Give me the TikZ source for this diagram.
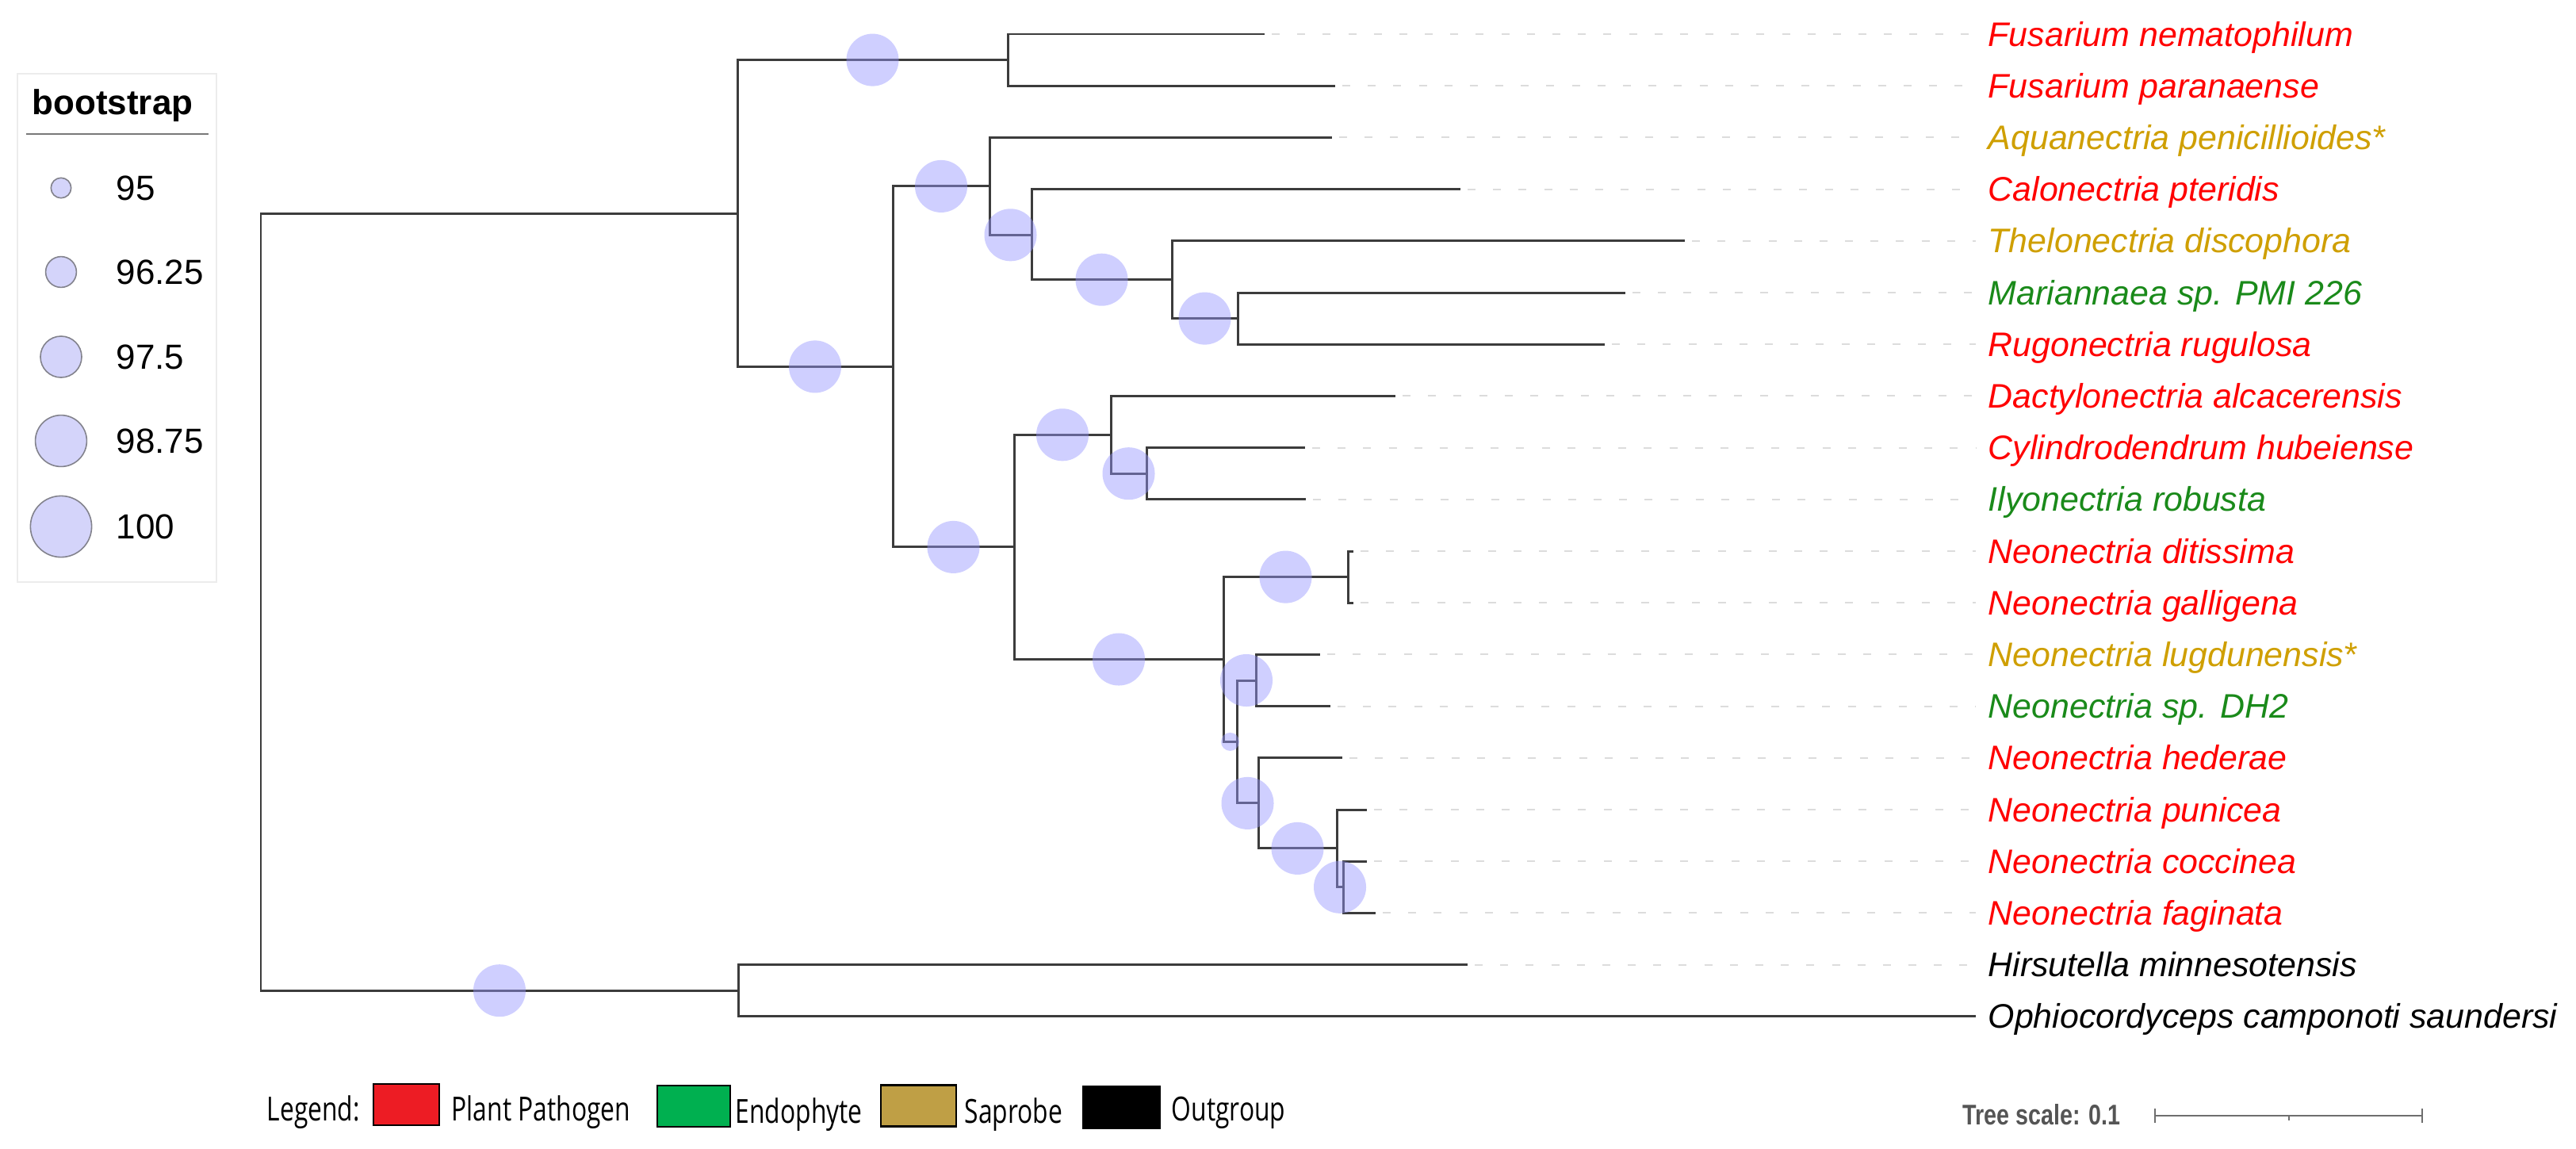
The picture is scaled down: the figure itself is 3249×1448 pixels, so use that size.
\documentclass[tikz,border=0pt]{standalone}
\usepackage{fontspec}
\setmainfont{Liberation Sans}
\newfontfamily\legfont[FakeStretch=0.76]{Open Sans}
\newfontfamily\scalefnt[FakeStretch=0.8]{Liberation Sans}
\usetikzlibrary{calc}
\definecolor{ppred}{HTML}{FF0000}
\definecolor{ppgold}{HTML}{CF9F00}
\definecolor{ppgreen}{HTML}{1A8A1A}
\definecolor{ppblack}{HTML}{000000}
\definecolor{branchcol}{HTML}{3C3C3C}
\definecolor{bootfill}{HTML}{9696FF}
\definecolor{legcfill}{HTML}{D4D4FA}
\definecolor{kred}{HTML}{ED1C24}
\definecolor{kgreen}{HTML}{00B050}
\definecolor{kgold}{HTML}{BF9F45}
\begin{document}
\begin{tikzpicture}[x=0.01cm,y=-0.01cm,
  branch/.style={draw=branchcol,line width=0.85pt,line join=miter},
  guide/.style={draw={rgb,255:red,220;green,220;blue,220},line width=0.55pt,dash pattern=on 2.85pt off 6.3pt},
  boot/.style={circle,inner sep=0pt,minimum size=0.66cm,fill=bootfill,fill opacity=0.45,draw=none},
  legcirc/.style={circle,inner sep=0pt,fill=legcfill,draw={rgb,255:red,130;green,130;blue,140},line width=0.45pt},
  leaflab/.style={anchor=base west,inner sep=0pt,font=\fontsize{12.2}{14}\selectfont\itshape},
  legnum/.style={anchor=base west,inner sep=0pt,font=\fontsize{12.5}{15}\selectfont},
  legtxt/.style={anchor=base west,inner sep=0pt,font=\legfont\fontsize{11.9}{14}\selectfont},
  keybox/.style={draw=black,line width=0.8pt,inner sep=0pt,minimum width=0.86cm,minimum height=0.52cm},
  scalecol/.style={draw={rgb,255:red,110;green,110;blue,110},line width=0.8pt}
]
\useasboundingbox (0,0) rectangle (3249,1448);
\fill[white] (0,0) rectangle (3249,1448);

% internal nodes
\coordinate (root) at (329,759.1);
\coordinate (nA) at (930,269);
\coordinate (nF) at (1271,75.6);
\coordinate (nL) at (1126,462.4);
\coordinate (nB) at (1248,234.9);
\coordinate (nB2) at (1301,296.3);
\coordinate (nB3) at (1478,352.7);
\coordinate (nB4) at (1561,401.6);
\coordinate (nCD) at (1279,689.9);
\coordinate (nC) at (1401,548.3);
\coordinate (nC2) at (1446,597.2);
\coordinate (nD) at (1543,831.5);
\coordinate (nD1) at (1700,727.6);
\coordinate (nD2) at (1560,935.4);
\coordinate (nD3) at (1584,858);
\coordinate (nD4) at (1587,1012.9);
\coordinate (nD5) at (1686,1069.9);
\coordinate (nD6) at (1694,1118.8);
\coordinate (nO) at (931,1249.2);

% leaves
\foreach \i/\x in {0/1595,1/1684,2/1680,3/1842,4/2125,5/2050,6/2024,7/1760,8/1646,9/1647,
  10/1707,11/1707,12/1665,13/1678,14/1693,15/1724,16/1724,17/1735,18/1851,19/2492}
  \coordinate (l\i) at (\x,43+65.2*\i);

% branches
\foreach \p/\c in {root/nA,root/nO,nA/nF,nA/nL,nF/l0,nF/l1,nL/nB,nL/nCD,nB/l2,nB/nB2,
  nB2/l3,nB2/nB3,nB3/l4,nB3/nB4,nB4/l5,nB4/l6,nCD/nC,nCD/nD,nC/l7,nC/nC2,nC2/l8,nC2/l9,
  nD/nD1,nD/nD2,nD1/l10,nD1/l11,nD2/nD3,nD2/nD4,nD3/l12,nD3/l13,nD4/l14,nD4/nD5,
  nD5/l15,nD5/nD6,nD6/l16,nD6/l17,nO/l18,nO/l19}
  \draw[branch] (\p) |- (\c);

% bootstrap circles
\foreach \p/\c in {nA/nF,nA/nL,nL/nB,nB/nB2,nB2/nB3,nB3/nB4,nCD/nC,nC/nC2,nL/nCD,
  nCD/nD,nD/nD1,nD2/nD3,nD2/nD4,nD4/nD5,nD5/nD6,root/nO}
  \node[boot] (b\c) at ($(\p|-\c)!0.5!(\c)$) {};
\node[boot,minimum size=0.23cm] (bnD2) at ($(nD|-nD2)!0.5!(nD2)$) {};

% leaf labels
\foreach \i/\col/\txt in {0/ppred/Fusarium nematophilum,1/ppred/Fusarium paranaense,
  2/ppgold/Aquanectria penicillioides*,3/ppred/Calonectria pteridis,
  4/ppgold/Thelonectria discophora,5/ppgreen/Mariannaea sp. PMI 226,
  6/ppred/Rugonectria rugulosa,7/ppred/Dactylonectria alcacerensis,
  8/ppred/Cylindrodendrum hubeiense,9/ppgreen/Ilyonectria robusta,
  10/ppred/Neonectria ditissima,11/ppred/Neonectria galligena,
  12/ppgold/Neonectria lugdunensis*,13/ppgreen/Neonectria sp. DH2,
  14/ppred/Neonectria hederae,15/ppred/Neonectria punicea,
  16/ppred/Neonectria coccinea,17/ppred/Neonectria faginata,
  18/ppblack/Hirsutella minnesotensis,19/ppblack/Ophiocordyceps camponoti saundersi}
  \node[leaflab,text=\col] (t\i) at (2507,43+65.2*\i+15) {\txt};

\foreach \i in {0,...,18}
  \draw[guide,shorten <=0.09cm,shorten >=0.15cm] (l\i) -- (l\i -| t\i.west);

% bootstrap legend
\draw[draw={rgb,255:red,236;green,236;blue,236},line width=0.4pt,fill=white] (22,93) rectangle (273,734);
\node[anchor=base west,inner sep=0pt,font=\bfseries\fontsize{12.5}{15}\selectfont] (bt) at (40,144) {bootstrap};
\draw[draw={rgb,255:red,120;green,120;blue,120},line width=0.6pt] (33,169) -- (263,169);
\foreach \k/\y/\d/\v in {1/237/0.254/95,2/343/0.388/96.25,3/450/0.52/97.5,4/556/0.648/98.75,5/664/0.772/100}{
  \node[legcirc,minimum size=\d cm] (lc\k) at (77,\y) {};
  \node[legnum] (lv\k) at (146,\y+15.5) {\v};
}

% category legend
\node[legtxt] (lgL) at (336,1413) {Legend:};
\node[keybox,fill=kred,minimum width=0.83cm] (kR) at (512.5,1393) {};
\node[legtxt] (lgR) at (569,1413) {Plant Pathogen};
\node[keybox,fill=kgreen,minimum width=0.92cm] (kG) at (875,1395) {};
\node[legtxt] (lgG) at (927,1416) {Endophyte};
\node[keybox,fill=kgold,minimum width=0.95cm] (kS) at (1158.5,1394.5) {};
\node[legtxt] (lgS) at (1216,1416) {Saprobe};
\node[keybox,fill=black,minimum width=0.97cm] (kK) at (1414.5,1396.5) {};
\node[legtxt] (lgK) at (1477,1413) {Outgroup};

% tree scale
\node[anchor=base west,inner sep=0pt,text={rgb,255:red,85;green,85;blue,85},
  font=\scalefnt\bfseries\fontsize{10.2}{12}\selectfont] (ts) at (2475,1418) {Tree scale: 0.1};
\coordinate (s0) at (2718,1407);
\coordinate (s1) at (3055,1407);
\coordinate (sm) at (2887,1407);
\draw[scalecol] (s0) -- (s1);
\draw[scalecol] ([yshift=0.09cm]s0) -- ([yshift=-0.09cm]s0);
\draw[scalecol] ([yshift=0.09cm]s1) -- ([yshift=-0.09cm]s1);
\draw[scalecol,line width=0.5pt] (sm) -- ([yshift=-0.06cm]sm);
\end{tikzpicture}
\end{document}
